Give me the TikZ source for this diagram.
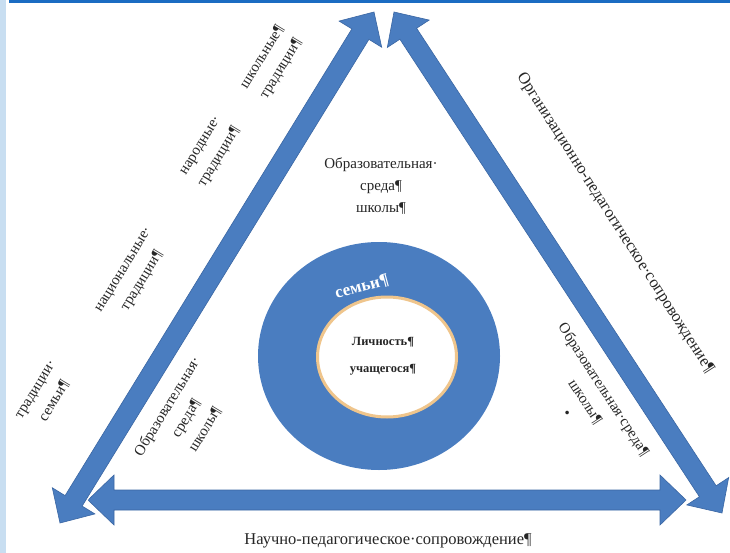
\documentclass[tikz,border=0pt]{standalone}
\usepackage{fontspec}
\setmainfont{Liberation Serif}
\usetikzlibrary{calc,shapes.geometric}
\definecolor{arrblue}{HTML}{4A7DC0}
\definecolor{arredge}{HTML}{3A66A3}
\definecolor{topbar}{HTML}{1B6CC2}
\definecolor{stripe}{HTML}{C8DEF1}
\definecolor{glow}{HTML}{EFC58C}
\definecolor{txt}{HTML}{262626}
\def\hl{26pt}\def\hw{25pt}\def\sw{10pt}
\newcommand\blockarr[3]{%
  \coordinate (#3-ah) at ($(#1)!\hl!(#2)$);
  \coordinate (#3-bh) at ($(#2)!\hl!(#1)$);
  \path[barrow] (#1) -- ($(#3-ah)!\hw!90:(#2)$) -- ($(#3-ah)!\sw!90:(#2)$)
    -- ($(#3-bh)!\sw!-90:(#1)$) -- ($(#3-bh)!\hw!-90:(#1)$) -- (#2)
    -- ($(#3-bh)!\hw!90:(#1)$) -- ($(#3-bh)!\sw!90:(#1)$)
    -- ($(#3-ah)!\sw!-90:(#2)$) -- ($(#3-ah)!\hw!-90:(#2)$) -- cycle;}
\begin{document}
\begin{tikzpicture}[x=1pt,y=-1pt,
  lbl/.style={font=\fontsize{15}{22}\selectfont, text=txt, align=center, inner sep=0pt},
  biglbl/.style={font=\fontsize{16.5}{22}\selectfont, text=txt, align=center, inner sep=0pt},
  barrow/.style={preaction={draw=white, line width=3.5pt}, fill=arrblue, draw=arredge, line width=0.6pt, line join=miter}]
\useasboundingbox (0,0) rectangle (730,553);
\fill[white] (0,0) rectangle (730,553);
\fill[stripe] (0,0) rectangle (6,553);
\fill[topbar] (9,0) rectangle (730,3.5);
% arrow end points
\coordinate (bl) at (88,500);
\coordinate (br) at (686,500);
\coordinate (lb) at (60,523);
\coordinate (lt) at (374,12);
\coordinate (rt) at (394,12);
\coordinate (rb) at (722,513);
\blockarr{bl}{br}{ab}
\blockarr{lb}{lt}{al}
\blockarr{rt}{rb}{ar}
% circles
\node (outer) [ellipse, fill=arrblue, minimum width=242pt, minimum height=228pt, inner sep=0pt] at (379,356) {};
\node (inner) [ellipse, fill=white, draw=glow, line width=3pt, minimum width=139pt, minimum height=120pt, inner sep=0pt] at (387,357) {};
\node (semya) [font=\fontsize{17}{18}\selectfont\bfseries, text=white, rotate=15, inner sep=0pt] at (362,287) {семьи¶};
\node (lich) [font=\fontsize{12.5}{15}\selectfont\bfseries, text=txt, inner sep=0pt] at (383,342) {Личность¶};
\node (uch) [font=\fontsize{12.5}{15}\selectfont\bfseries, text=txt, inner sep=0pt] at (383,370) {учащегося¶};
% texts
\node[lbl] (top) at (381,186) {Образовательная·\\среда¶\\школы¶};
\node[biglbl] (bot) at (388,541) {Научно-педагогическое·сопровождение¶};
\node[biglbl, rotate=-57.4] (org) at (615,223) {Организационно-педагогическое·сопровождение¶};
\node[lbl, rotate=-57] (rin) at (586,401) {Образовательная·среда¶\\школы¶\\•};
\node[lbl, rotate=58.6] (lin) at (186,418) {Образовательная·\\среда¶\\школы¶};
\node[lbl, rotate=58.6] (t1) at (272,63) {школьные¶\\традиции¶};
\node[lbl, rotate=58.6] (t2) at (211,152) {народные·\\традиции¶};
\node[lbl, rotate=58.6] (t3) at (134,276) {национальные·\\традиции¶};
\node[lbl, rotate=58.6] (t4) at (46,396) {традиции·\\семьи¶};
\end{tikzpicture}
\end{document}
